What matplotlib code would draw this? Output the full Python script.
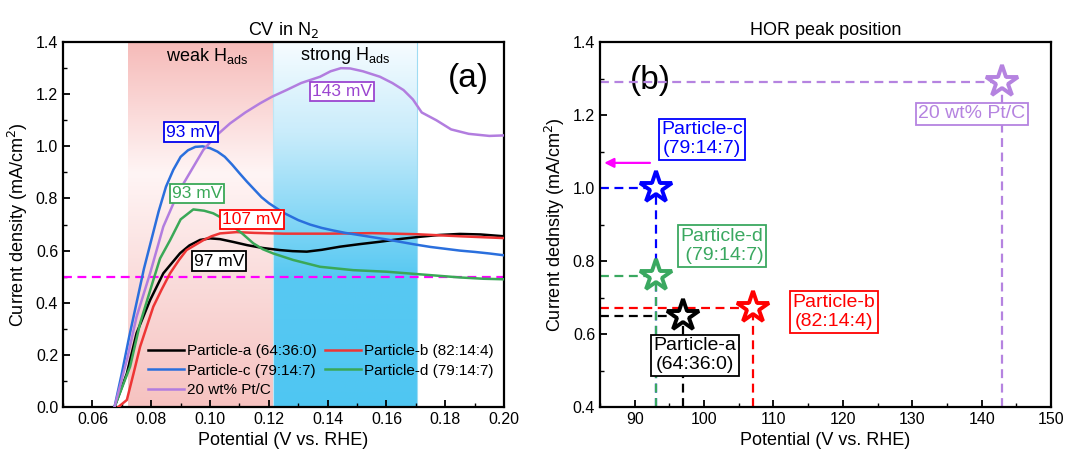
import numpy as np
import matplotlib.pyplot as plt
from matplotlib.colors import LinearSegmentedColormap

plt.rcParams['font.family'] = ['Liberation Sans', 'DejaVu Sans']

# ---- data: CV curves ----
x_a = [0.0675, 0.0717, 0.075, 0.0796, 0.0841, 0.0898, 0.093, 0.0966, 0.1000, 0.1034, 0.108, 0.1126,
       0.118, 0.1238, 0.128, 0.1329, 0.138, 0.1442, 0.1510, 0.1578, 0.1650, 0.1714, 0.178, 0.185,
       0.192, 0.200]
y_a = [0.0, 0.129, 0.283, 0.41, 0.513, 0.590, 0.620, 0.641, 0.647, 0.644, 0.633, 0.621,
       0.610, 0.602, 0.598, 0.596, 0.603, 0.615, 0.625, 0.634, 0.645, 0.653, 0.660, 0.664,
       0.662, 0.655]

x_b = [0.0688, 0.0717, 0.0740, 0.0762, 0.0785, 0.0807, 0.0835, 0.0864, 0.0895, 0.092, 0.0977,
       0.1005, 0.1034, 0.109, 0.115, 0.125, 0.140, 0.155, 0.170, 0.185, 0.200]
y_b = [0.0, 0.027, 0.13, 0.231, 0.31, 0.385, 0.45, 0.513, 0.565, 0.602, 0.640,
       0.655, 0.666, 0.671, 0.668, 0.665, 0.665, 0.667, 0.663, 0.655, 0.648]

x_c = [0.0675, 0.070, 0.0725, 0.075, 0.0775, 0.080, 0.0825, 0.085, 0.0875, 0.090, 0.0925, 0.095,
       0.0975, 0.100, 0.1025, 0.105, 0.1075, 0.110, 0.1125, 0.115, 0.1175, 0.120, 0.125, 0.130,
       0.134, 0.138, 0.142, 0.146, 0.150, 0.155, 0.160, 0.165, 0.170, 0.175, 0.180, 0.185,
       0.190, 0.195, 0.200]
y_c = [0.0, 0.13, 0.27, 0.40, 0.53, 0.64, 0.75, 0.845, 0.91, 0.96, 0.985, 0.998,
       1.0, 0.993, 0.98, 0.96, 0.93, 0.897, 0.865, 0.835, 0.805, 0.782, 0.745, 0.717,
       0.700, 0.687, 0.677, 0.668, 0.661, 0.652, 0.643, 0.633, 0.623, 0.614, 0.607, 0.600,
       0.595, 0.589, 0.582]

x_d = [0.0675, 0.0728, 0.0762, 0.0807, 0.083, 0.0864, 0.090, 0.0943, 0.098, 0.1011, 0.104, 0.1079,
       0.111, 0.1147, 0.118, 0.1215, 0.1283, 0.1374, 0.1487, 0.1601, 0.1748, 0.185, 0.193, 0.200]
y_d = [0.0, 0.155, 0.321, 0.487, 0.57, 0.64, 0.72, 0.758, 0.753, 0.743, 0.725, 0.692,
       0.665, 0.628, 0.605, 0.589, 0.564, 0.538, 0.525, 0.519, 0.506, 0.497, 0.492, 0.490]

x_pt = [0.0675, 0.0717, 0.075, 0.0796, 0.0841, 0.0875, 0.091, 0.0977, 0.102, 0.1068, 0.112, 0.117,
        0.121, 0.126, 0.131, 0.1374, 0.141, 0.1445, 0.1476, 0.152, 0.1578, 0.162, 0.1658, 0.169,
        0.172, 0.177, 0.182, 0.188, 0.195, 0.200]
y_pt = [0.0, 0.18, 0.346, 0.513, 0.692, 0.78, 0.858, 0.986, 1.04, 1.088, 1.13, 1.165,
        1.19, 1.216, 1.243, 1.267, 1.288, 1.30, 1.299, 1.288, 1.267, 1.243, 1.216, 1.18,
        1.13, 1.10, 1.065, 1.048, 1.04, 1.042]

labels_a = ['Particle-a (64:36:0)', 'Particle-b (82:14:4)', 'Particle-c (79:14:7)',
            'Particle-d (79:14:7)', '20 wt% Pt/C']
colors_a = ['black', '#ee3535', '#2a6fdd', '#3aa857', '#b27ddf']

# ---- data: peak positions for panel (b) ----
peak_mv = [97, 107, 93, 93, 143]
peak_j = [0.65, 0.67, 1.0, 0.76, 1.29]
colors_b = ['black', '#ff0000', '#0000ff', '#3aa860', '#b583e0']
labels_b = ['Particle-a\n(64:36:0)', 'Particle-b\n(82:14:4)', 'Particle-c\n(79:14:7)',
            'Particle-d\n (79:14:7)', '20 wt% Pt/C']
label_pos = [(98.7, 0.542), (118.7, 0.66), (99.7, 1.134), (102.6, 0.841), (138.6, 1.203)]

fig = plt.figure(figsize=(10.69, 4.59), dpi=100)
ax1 = fig.add_axes([0.059, 0.1133, 0.4125, 0.795])
ax2 = fig.add_axes([0.5613, 0.1133, 0.4219, 0.795])

# ---------------- panel (a) ----------------
pink = LinearSegmentedColormap.from_list('pink', [(0.0, '#f6c2c0'), (0.35, '#fadcdb'),
                                                  (0.64, '#fff5f5'), (1.0, '#f6bbb9')])
blue = LinearSegmentedColormap.from_list('blue', [(0.0, '#4fc6f2'), (0.36, '#58c9f2'),
                                                  (0.75, '#c9ecfb'), (1.0, '#f6fcff')])
grad = np.linspace(0, 1, 256).reshape(-1, 1)
ax1.imshow(grad, cmap=pink, origin='lower', aspect='auto', extent=[0.072, 0.1213, 0, 1.4], zorder=0)
ax1.imshow(grad, cmap=blue, origin='lower', aspect='auto', extent=[0.1213, 0.1705, 0, 1.4], zorder=0)
ax1.axvline(0.1213, color='#bfe6f5', lw=0.8, zorder=0.5)
ax1.axvline(0.1705, color='#9fdcf3', lw=0.8, zorder=0.5)

series = [(x_a, y_a), (x_b, y_b), (x_c, y_c), (x_d, y_d), (x_pt, y_pt)]
lines = []
for (xs, ys), c, lab in zip(series, colors_a, labels_a):
    ln, = ax1.plot(xs, ys, color=c, lw=1.8, label=lab, zorder=3, solid_joinstyle='round')
    lines.append(ln)

ax1.axhline(0.5, color='#ff00ff', lw=1.6, ls=(0, (4, 2.5)), zorder=2)

ax1.set_xlim(0.05, 0.20)
ax1.set_ylim(0, 1.4)
ax1.set_xticks(np.arange(0.06, 0.201, 0.02))
ax1.set_xticks(np.arange(0.05, 0.201, 0.01), minor=True)
ax1.set_yticks(np.arange(0, 1.41, 0.2))
ax1.set_yticks(np.arange(0, 1.41, 0.1), minor=True)
ax1.xaxis.set_major_formatter(plt.FormatStrFormatter('%.2f'))
ax1.yaxis.set_major_formatter(plt.FormatStrFormatter('%.1f'))
ax1.set_xlabel('Potential (V vs. RHE)', fontsize=13)
ax1.set_ylabel('Current density (mA/cm$^2$)', fontsize=13)
ax1.set_title('CV in N$_2$', fontsize=13, pad=5)

box_a = [('93 mV', 0.0935, 1.055, '#0000ee'), ('93 mV', 0.0956, 0.82, '#3aa857'),
         ('107 mV', 0.1143, 0.72, '#ff0000'), ('97 mV', 0.103, 0.56, 'black'),
         ('143 mV', 0.1449, 1.21, '#9b45d0')]
for txt, bx, by, c in box_a:
    ax1.text(bx, by, txt, color=c, fontsize=12.5, ha='center', va='center', zorder=5,
             bbox=dict(boxstyle='square,pad=0.12', fc='white', ec=c, lw=1.3))

ax1.text(0.099, 1.345, 'weak H$_{\\mathregular{ads}}$', fontsize=13, ha='center', va='center')
ax1.text(0.146, 1.35, 'strong H$_{\\mathregular{ads}}$', fontsize=13, ha='center', va='center')
ax1.text(0.188, 1.26, '(a)', fontsize=24, ha='center', va='center')

ax1.legend([lines[0], lines[2], lines[4], lines[1], lines[3]],
           [labels_a[0], labels_a[2], labels_a[4], labels_a[1], labels_a[3]],
           ncol=2, loc='lower right', bbox_to_anchor=(1.0, 0.0), frameon=False,
           fontsize=11, handlelength=2.4, handletextpad=0.2, columnspacing=0.5,
           labelspacing=0.35, borderaxespad=0.25)

# ---------------- panel (b) ----------------
for mv, j, c in zip(peak_mv, peak_j, colors_b):
    ax2.plot([85, mv], [j, j], color=c, lw=1.6, ls=(0, (4, 2.5)), zorder=2)
    ax2.plot([mv, mv], [0.4, j], color=c, lw=1.6, ls=(0, (4, 2.5)), zorder=2)
for mv, j, c in zip(peak_mv, peak_j, colors_b):
    ax2.plot(mv, j, marker='*', ms=24, mfc='white', mec=c, mew=2.8, zorder=4)

for lab, (lx, ly), c in zip(labels_b, label_pos, colors_b):
    ax2.text(lx, ly, lab, color=c, fontsize=14, ha='center', va='center', zorder=5,
             linespacing=1.2,
             bbox=dict(boxstyle='square,pad=0.12', fc='white', ec=c, lw=1.3))

ax2.annotate('', xy=(85.2, 1.069), xytext=(92.6, 1.069),
             arrowprops=dict(arrowstyle='-|>', color='#ff00ff', lw=1.6, mutation_scale=14))
ax2.text(92.2, 1.296, '(b)', fontsize=24, ha='center', va='center', zorder=1)

ax2.set_xlim(85, 150)
ax2.set_ylim(0.4, 1.4)
ax2.set_xticks(np.arange(90, 151, 10))
ax2.set_xticks(np.arange(85, 151, 5), minor=True)
ax2.set_yticks(np.arange(0.4, 1.41, 0.2))
ax2.set_yticks(np.arange(0.4, 1.41, 0.1), minor=True)
ax2.yaxis.set_major_formatter(plt.FormatStrFormatter('%.1f'))
ax2.set_xlabel('Potential (V vs. RHE)', fontsize=13)
ax2.set_ylabel('Current dednsity (mA/cm$^2$)', fontsize=13)
ax2.set_title('HOR peak position', fontsize=13, pad=5)

for ax in (ax1, ax2):
    for s in ax.spines.values():
        s.set_linewidth(1.6)
    ax.tick_params(which='major', direction='in', length=5, width=1.3, labelsize=11.5)
    ax.tick_params(which='minor', direction='in', length=3, width=1.0)

fig.savefig('out.png', dpi=100)
